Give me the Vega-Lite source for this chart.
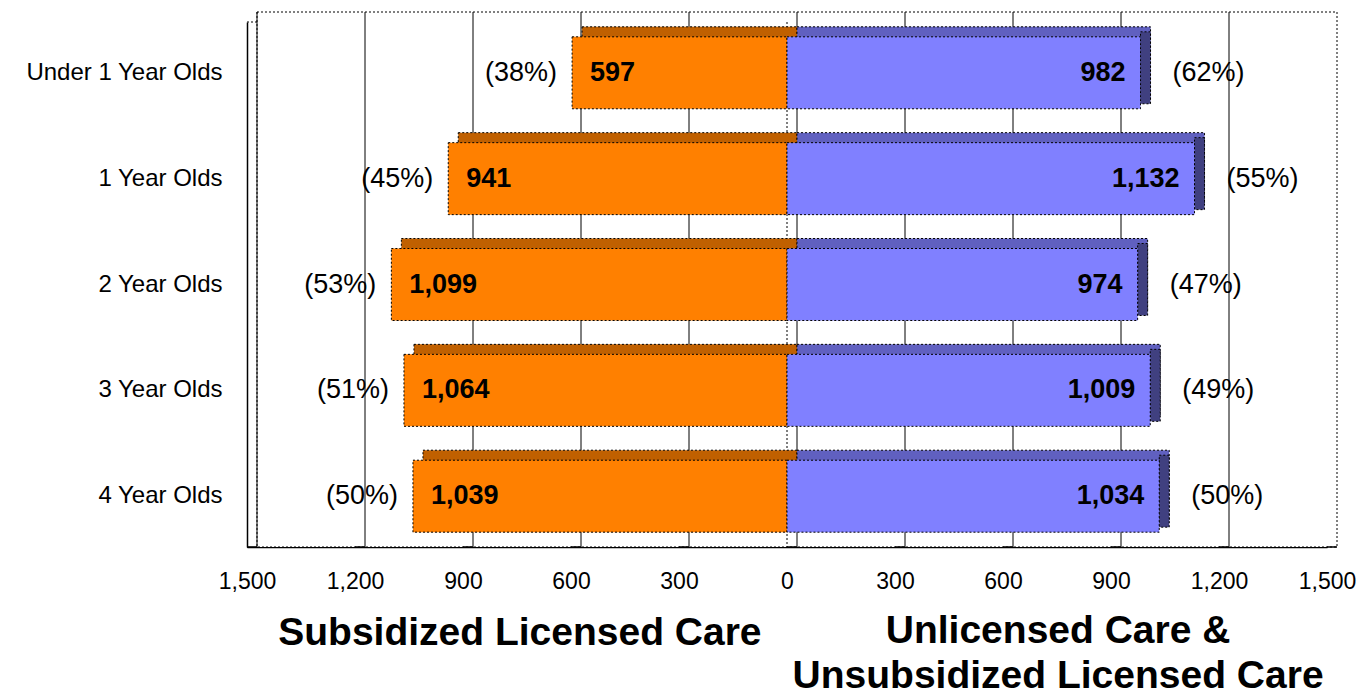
{
  "$schema": "https://vega.github.io/schema/vega-lite/v6.json",
  "width": 1080,
  "height": 525,
  "autosize": {"type": "none"},
  "padding": {"left": 247, "top": 22, "right": 34, "bottom": 151},
  "background": "white",
  "config": {"view": {"stroke": null}, "font": "Liberation Sans", "text": {"font": "Liberation Sans"}},
  "datasets": {
    "bars": [
      {"age": "Under 1 Year Olds", "group": "Subsidized Licensed Care", "children": 597, "pct": 38},
      {"age": "Under 1 Year Olds", "group": "Unlicensed Care & Unsubsidized Licensed Care", "children": 982, "pct": 62},
      {"age": "1 Year Olds", "group": "Subsidized Licensed Care", "children": 941, "pct": 45},
      {"age": "1 Year Olds", "group": "Unlicensed Care & Unsubsidized Licensed Care", "children": 1132, "pct": 55},
      {"age": "2 Year Olds", "group": "Subsidized Licensed Care", "children": 1099, "pct": 53},
      {"age": "2 Year Olds", "group": "Unlicensed Care & Unsubsidized Licensed Care", "children": 974, "pct": 47},
      {"age": "3 Year Olds", "group": "Subsidized Licensed Care", "children": 1064, "pct": 51},
      {"age": "3 Year Olds", "group": "Unlicensed Care & Unsubsidized Licensed Care", "children": 1009, "pct": 49},
      {"age": "4 Year Olds", "group": "Subsidized Licensed Care", "children": 1039, "pct": 50},
      {"age": "4 Year Olds", "group": "Unlicensed Care & Unsubsidized Licensed Care", "children": 1034, "pct": 50}
    ],
    "grid": [
      {"tick": -1500}, {"tick": -1200}, {"tick": -900}, {"tick": -600}, {"tick": -300},
      {"tick": 0}, {"tick": 300}, {"tick": 600}, {"tick": 900}, {"tick": 1200}
    ],
    "floor": [
      {"tick": -1500}, {"tick": -1200}, {"tick": -900}, {"tick": -600}, {"tick": -300},
      {"tick": 0}, {"tick": 300}, {"tick": 600}, {"tick": 900}, {"tick": 1200}, {"tick": 1500}
    ]
  },
  "layer": [
    {
      "data": {"values": [{"wall": 1}]},
      "mark": {"type": "rect", "fill": "white", "stroke": "black", "strokeDash": [2, 2], "strokeWidth": 1, "xOffset": 10, "x2Offset": 10, "yOffset": -10, "y2Offset": -10},
      "encoding": {
        "x": {
          "datum": -1500, "type": "quantitative",
          "scale": {"domain": [-1500, 1500], "nice": false, "zero": false},
          "axis": {"values": [-1500, -1200, -900, -600, -300, 0, 300, 600, 900, 1200, 1500], "labelExpr": "format(abs(datum.value), ',')", "grid": false, "ticks": false, "domain": true, "domainColor": "black", "domainWidth": 1.5, "labelFontSize": 23, "labelColor": "black", "labelPadding": 23, "labelFlush": false, "title": null, "labelFont": "Liberation Sans", "labelOverlap": false}
        },
        "x2": {"datum": 1500}
      }
    },
    {
      "data": {"name": "grid"},
      "mark": {"type": "rule", "color": "black", "strokeWidth": 1, "xOffset": 10, "yOffset": -10, "y2Offset": -10},
      "encoding": {
        "x": {"field": "tick", "type": "quantitative", "title": null}
      }
    },
    {
      "data": {"name": "floor"},
      "mark": {"type": "rule", "color": "black", "strokeWidth": 1.5, "y": {"expr": "height"}, "y2": {"expr": "height - 10"}, "x2Offset": 10},
      "encoding": {
        "x": {"field": "tick", "type": "quantitative", "title": null},
        "x2": {"field": "tick"}
      }
    },
    {
      "data": {"values": [{"corner": -1500}]},
      "mark": {"type": "rule", "color": "black", "strokeWidth": 1, "strokeDash": [2, 2], "y": {"expr": "0"}, "y2": {"expr": "-10"}, "x2Offset": 10},
      "encoding": {
        "x": {"field": "corner", "type": "quantitative", "title": null},
        "x2": {"field": "corner"}
      }
    },
    {
      "data": {"values": [{"zero": 0}]},
      "mark": {"type": "rule", "color": "black", "strokeWidth": 1, "strokeDash": [2, 2]},
      "encoding": {
        "x": {"field": "zero", "type": "quantitative", "title": null}
      }
    },
    {
      "data": {"name": "bars"},
      "transform": [
        {"calculate": "datum.group === 'Subsidized Licensed Care' ? -datum.children : datum.children", "as": "signed"},
        {"calculate": "'(' + datum.pct + '%)'", "as": "pctLabel"}
      ],
      "encoding": {
        "y": {
          "field": "age", "type": "nominal",
          "sort": ["Under 1 Year Olds", "1 Year Olds", "2 Year Olds", "3 Year Olds", "4 Year Olds"],
          "scale": {"paddingInner": 0.32, "paddingOuter": 0.14},
          "axis": {"title": null, "ticks": false, "domain": true, "domainColor": "black", "domainWidth": 1.5, "labelFontSize": 24, "labelColor": "black", "labelPadding": 25, "labelLimit": 300, "labelFont": "Liberation Sans"}
        }
      },
      "layer": [
        {
          "mark": {"type": "bar", "xOffset": 10, "x2Offset": 10, "yOffset": -10, "y2Offset": -10, "stroke": "black", "strokeDash": [2, 2], "strokeWidth": 1},
          "encoding": {
            "x": {"field": "signed", "type": "quantitative", "title": null},
            "x2": {"datum": 0},
            "color": {"condition": {"test": "datum.signed < 0", "value": "#C06000"}, "value": "#6060C0"}
          }
        },
        {
          "transform": [{"filter": "datum.signed > 0"}],
          "mark": {"type": "bar", "x2Offset": 10, "yOffset": -5, "y2Offset": -5, "fill": "#404080", "stroke": "black", "strokeDash": [2, 2], "strokeWidth": 1},
          "encoding": {
            "x": {"field": "signed", "type": "quantitative", "title": null},
            "x2": {"field": "signed"}
          }
        },
        {
          "mark": {"type": "bar", "stroke": "black", "strokeDash": [2, 2], "strokeWidth": 1},
          "encoding": {
            "x": {"field": "signed", "type": "quantitative", "title": null},
            "x2": {"datum": 0},
            "color": {"field": "group", "type": "nominal", "legend": null,
              "scale": {"domain": ["Subsidized Licensed Care", "Unlicensed Care & Unsubsidized Licensed Care"], "range": ["#FF8000", "#8080FF"]}}
          }
        },
        {
          "transform": [{"filter": "datum.signed < 0"}],
          "mark": {"type": "text", "align": "left", "baseline": "middle", "dx": 18, "fontSize": 27, "fontWeight": "bold", "color": "black"},
          "encoding": {
            "x": {"field": "signed", "type": "quantitative", "title": null},
            "text": {"field": "children", "type": "quantitative", "format": ","}
          }
        },
        {
          "transform": [{"filter": "datum.signed > 0"}],
          "mark": {"type": "text", "align": "right", "baseline": "middle", "dx": -15, "fontSize": 27, "fontWeight": "bold", "color": "black"},
          "encoding": {
            "x": {"field": "signed", "type": "quantitative", "title": null},
            "text": {"field": "children", "type": "quantitative", "format": ","}
          }
        },
        {
          "transform": [{"filter": "datum.signed < 0"}],
          "mark": {"type": "text", "align": "right", "baseline": "middle", "dx": -15, "fontSize": 27, "color": "black"},
          "encoding": {
            "x": {"field": "signed", "type": "quantitative", "title": null},
            "text": {"field": "pctLabel", "type": "nominal"}
          }
        },
        {
          "transform": [{"filter": "datum.signed > 0"}],
          "mark": {"type": "text", "align": "left", "baseline": "middle", "dx": 32, "fontSize": 27, "color": "black"},
          "encoding": {
            "x": {"field": "signed", "type": "quantitative", "title": null},
            "text": {"field": "pctLabel", "type": "nominal"}
          }
        }
      ]
    },
    {
      "data": {"values": [{"t": 1}]},
      "mark": {"type": "text", "text": "Subsidized Licensed Care", "fontSize": 39, "fontWeight": "bold", "align": "center", "baseline": "alphabetic", "y": {"expr": "height + 98"}, "color": "black"},
      "encoding": {"x": {"datum": -742, "type": "quantitative", "title": null}}
    },
    {
      "data": {"values": [{"t": 1}]},
      "mark": {"type": "text", "text": ["Unlicensed Care &", "Unsubsidized Licensed Care"], "lineHeight": 45, "fontSize": 39, "fontWeight": "bold", "align": "center", "baseline": "alphabetic", "y": {"expr": "height + 96"}, "color": "black"},
      "encoding": {"x": {"datum": 753, "type": "quantitative", "title": null}}
    }
  ]
}
